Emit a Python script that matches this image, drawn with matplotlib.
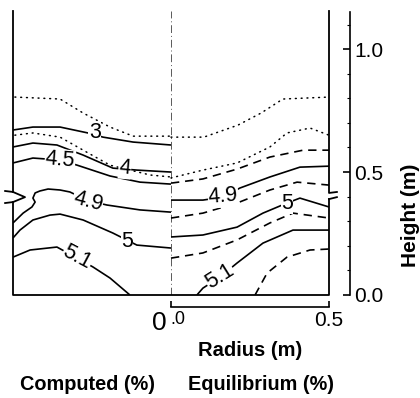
import matplotlib
matplotlib.use("Agg")
import matplotlib.pyplot as plt
from matplotlib.ticker import MultipleLocator

plt.rcParams["font.family"] = ["Liberation Sans", "DejaVu Sans"]

# ── contour lines: radius (m, left half negative), height (m) ──
# Computed (left half)
comp_dot_top_r = [-0.494, -0.351, -0.278, -0.193, -0.120, 0.0]
comp_dot_top_h = [0.805, 0.797, 0.740, 0.683, 0.646, 0.646]
comp_dot_low_r = [-0.494, -0.437, -0.351, -0.278, -0.193, -0.066, 0.0]
comp_dot_low_h = [0.650, 0.659, 0.642, 0.589, 0.528, 0.488, 0.480]
comp_3_r = [-0.5, -0.437, -0.351, -0.263, -0.215, -0.120, 0.0]
comp_3_h = [0.671, 0.683, 0.683, 0.659, 0.642, 0.622, 0.610]
comp_4_r = [-0.5, -0.437, -0.361, -0.278, -0.184, -0.108, 0.0]
comp_4_h = [0.602, 0.618, 0.610, 0.569, 0.516, 0.508, 0.500]
comp_45_r = [-0.5, -0.437, -0.351, -0.297, -0.193, -0.098, 0.0]
comp_45_h = [0.537, 0.557, 0.549, 0.528, 0.484, 0.459, 0.451]
comp_49_r = [-0.5, -0.468, -0.440, -0.430, -0.437, -0.430, -0.415, -0.389, -0.351,
             -0.320, -0.263, -0.203, -0.098, 0.0]
comp_49_h = [0.293, 0.333, 0.358, 0.378, 0.394, 0.415, 0.423, 0.431, 0.427,
             0.419, 0.384, 0.366, 0.346, 0.337]
comp_5_r = [-0.5, -0.478, -0.437, -0.383, -0.351, -0.278, -0.184, -0.108, 0.0]
comp_5_h = [0.232, 0.264, 0.305, 0.325, 0.329, 0.305, 0.252, 0.203, 0.191]
comp_51_r = [-0.5, -0.446, -0.361, -0.297, -0.247, -0.193, -0.130]
comp_51_h = [0.154, 0.183, 0.195, 0.150, 0.114, 0.069, 0.0]

# Equilibrium (right half)
eq_dot_top_r = [0.0, 0.104, 0.212, 0.285, 0.354, 0.5]
eq_dot_top_h = [0.642, 0.642, 0.691, 0.740, 0.797, 0.805]
eq_dot_low_r = [0.0, 0.101, 0.209, 0.313, 0.367, 0.440, 0.5]
eq_dot_low_h = [0.476, 0.508, 0.537, 0.602, 0.659, 0.679, 0.650]
eq_dash_a_r = [0.0, 0.101, 0.209, 0.313, 0.418, 0.5]
eq_dash_a_h = [0.455, 0.472, 0.512, 0.561, 0.589, 0.589]
eq_49_r = [0.0, 0.101, 0.165, 0.218, 0.313, 0.408, 0.5]
eq_49_h = [0.386, 0.386, 0.398, 0.435, 0.480, 0.520, 0.524]
eq_dash_b_r = [0.0, 0.101, 0.209, 0.313, 0.399, 0.5]
eq_dash_b_h = [0.313, 0.333, 0.374, 0.427, 0.459, 0.447]
eq_5_r = [0.0, 0.101, 0.209, 0.291, 0.367, 0.408, 0.449, 0.5]
eq_5_h = [0.236, 0.244, 0.276, 0.333, 0.374, 0.394, 0.378, 0.358]
eq_dash_c_r = [0.0, 0.101, 0.209, 0.313, 0.386, 0.5]
eq_dash_c_h = [0.150, 0.171, 0.224, 0.293, 0.333, 0.313]
eq_51_r = [0.082, 0.101, 0.155, 0.209, 0.291, 0.386, 0.5]
eq_51_h = [0.0, 0.028, 0.073, 0.130, 0.211, 0.264, 0.264]
eq_dash_d_r = [0.266, 0.304, 0.367, 0.440, 0.5]
eq_dash_d_h = [0.0, 0.089, 0.154, 0.183, 0.187]

# contour labels: text, radius, height, rotation
labels = [
    ("3", -0.241, 0.659, 0), ("4", -0.146, 0.516, -5), ("4.5", -0.351, 0.549, -5),
    ("4.9", -0.263, 0.382, -15), ("5", -0.139, 0.219, 0), ("5.1", -0.297, 0.152, -28),
    ("4.9", 0.165, 0.400, 5), ("5", 0.367, 0.374, 0), ("5.1", 0.155, 0.075, 32),
]

H_TOP = 1.155

fig = plt.figure(figsize=(4.2, 3.98), dpi=100)
ax = fig.add_axes([13 / 420, 103 / 398, 316 / 420, 284 / 398])
ax.set_xlim(-0.5, 0.5)
ax.set_ylim(0, H_TOP)
ax.patch.set_visible(False)

solid = dict(color="black", lw=1.2, solid_capstyle="butt")
dotted = dict(color="black", lw=1.1, ls=(0, (0.6, 3.2)), dash_capstyle="round")
dashed = dict(color="black", lw=1.2, ls=(0, (5, 3.5)))

for r, h in [(comp_3_r, comp_3_h), (comp_4_r, comp_4_h), (comp_45_r, comp_45_h),
             (comp_49_r, comp_49_h), (comp_5_r, comp_5_h), (comp_51_r, comp_51_h),
             (eq_49_r, eq_49_h), (eq_5_r, eq_5_h), (eq_51_r, eq_51_h)]:
    ax.plot(r, h, **solid)
for r, h in [(comp_dot_top_r, comp_dot_top_h), (comp_dot_low_r, comp_dot_low_h),
             (eq_dot_top_r, eq_dot_top_h), (eq_dot_low_r, eq_dot_low_h)]:
    ax.plot(r, h, **dotted)
for r, h in [(eq_dash_a_r, eq_dash_a_h), (eq_dash_b_r, eq_dash_b_h),
             (eq_dash_c_r, eq_dash_c_h), (eq_dash_d_r, eq_dash_d_h)]:
    ax.plot(r, h, **dashed)

for txt, r, h, rot in labels:
    ax.text(r, h, txt, fontsize=15.5, ha="center", va="center", rotation=rot,
            bbox=dict(boxstyle="square,pad=0.02", fc="white", ec="none"), zorder=5)

# ── cylinder outline with axis-break marks ──
border = dict(color="black", lw=1.3, clip_on=False, zorder=6)
ax.plot([-0.5, -0.5], [H_TOP, 0.419], **border)
ax.plot([-0.525, -0.5, -0.462, -0.5, -0.525], [0.423, 0.419, 0.398, 0.378, 0.374], **border)
ax.plot([-0.5, -0.5, 0.5, 0.5], [0.378, 0.0, 0.0, 0.390], **border)
ax.plot([0.5, 0.5, 0.525], [H_TOP, 0.415, 0.419], **border)
ax.plot([0.5, 0.525], [0.390, 0.398], **border)
ax.plot([0, 0], [0, H_TOP], color="0.35", lw=0.7, ls=(0, (8, 3, 1, 3)), zorder=1)

# ── right height axis ──
for s in ["top", "left"]:
    ax.spines[s].set_visible(False)
ax.spines["right"].set_position(("data", 0.5665))
ax.spines["right"].set_bounds(0, 1.15)
ax.spines["right"].set_linewidth(1.2)
ax.yaxis.tick_right()
ax.set_yticks([0.0, 0.5, 1.0])
ax.set_yticklabels(["0.0", "0.5", "1.0"])
ax.yaxis.set_minor_locator(MultipleLocator(0.1))
ax.tick_params(axis="y", which="major", direction="in", length=5, width=1.2,
               labelsize=15, pad=3)
ax.tick_params(axis="y", which="minor", direction="in", length=2, width=0.8)

# ── bottom radius bracket ──
ax.spines["bottom"].set_position(("outward", 8.6))
ax.spines["bottom"].set_bounds(0, 0.5)
ax.spines["bottom"].set_linewidth(1.2)
ax.set_xticks([0.0, 0.5])
ax.set_xticklabels(["", "0.5"])
ax.tick_params(axis="x", direction="in", length=4, width=1.2, labelsize=15, pad=3)
fig.text(159 / 420, 1 - 323 / 398, "0", fontsize=19, ha="center", va="center")
fig.text(178 / 420, 1 - 319 / 398, ".0", fontsize=13, ha="center", va="center")

fig.text(250 / 420, 1 - 350 / 398, "Radius (m)", fontsize=14.5, fontweight="bold",
         ha="center", va="center")
fig.text(410 / 420, 1 - 215 / 398, "Height (m)", fontsize=15, fontweight="bold",
         ha="center", va="center", rotation=90)
fig.text(87 / 420, 1 - 384 / 398, "Computed (%)", fontsize=14.3, fontweight="bold",
         ha="center", va="center")
fig.text(261 / 420, 1 - 384 / 398, "Equilibrium (%)", fontsize=14.3, fontweight="bold",
         ha="center", va="center")

fig.savefig("out.png", dpi=100)
